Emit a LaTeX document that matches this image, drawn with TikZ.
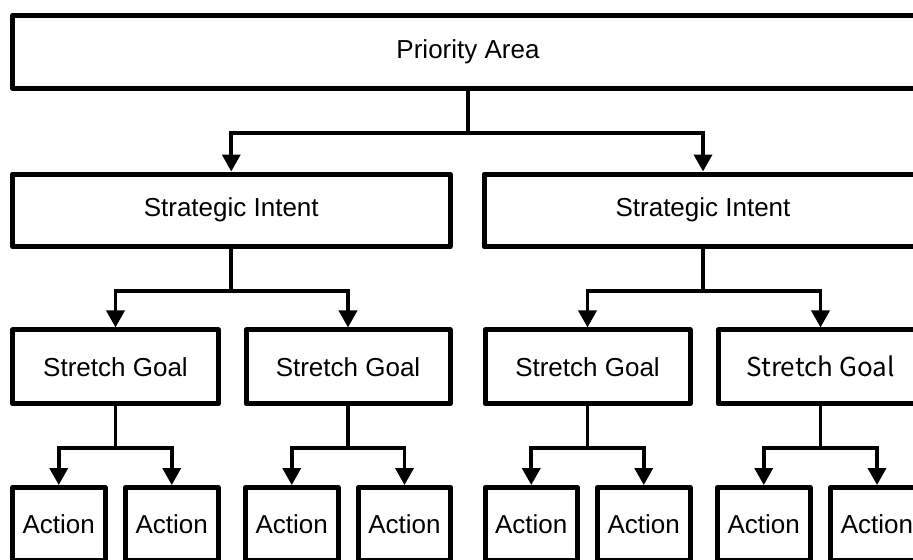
\documentclass[tikz,border=0pt]{standalone}
\usepackage{fontspec}
\setmainfont{Liberation Sans}
\newfontfamily\jpfont{Noto Sans CJK JP}
\usetikzlibrary{arrows.meta}

\begin{document}
\begin{tikzpicture}[x=0.5pt,y=-0.5pt]
	\tikzset{box/.style={draw,line width=2.5pt,line join=round,font=\fontsize{13}{15}\selectfont,inner sep=0pt,minimum height=36.85pt}}
	\tikzset{link/.style={line width=1.8pt},arr/.style={link,-{Triangle[length=8.5pt,width=9pt]}}}
	\useasboundingbox (0,0) rectangle (913,559);
	\clip (0,0) rectangle (913,559);

	%% levels
	\node[box,minimum width=455.5pt,minimum height=36.25pt] (pa) at (468,51.75) {Priority Area};
	\node[box,minimum width=218.75pt,minimum height=36.25pt] (si1) at (231.25,210.25) {Strategic Intent};
	\node[box,minimum width=219pt,minimum height=36.25pt] (si2) at (703,210.25) {Strategic Intent};
	\node[box,minimum width=103pt] (sg1) at (115.5,366.8) {Stretch Goal};
	\node[box,minimum width=102pt] (sg2) at (348,366.8) {Stretch Goal};
	\node[box,minimum width=102.5pt] (sg3) at (587.5,366.8) {Stretch Goal};
	\node[box,minimum width=102.5pt,font=\jpfont\fontsize{13}{15}\selectfont] (sg4) at (820.5,366.8) {Stretch Goal};
	\foreach \i/\x in {1/58.75,2/171.75,3/291.75,4/404.5,5/531.25,6/643.75,7/763.75,8/877}
	    \node[box,minimum width=46.25pt,minimum height=36.5pt] (act\i) at (\x,524) {Action};

	%% connectors
	\draw[link] (pa.south) -- ++(0,42.5) coordinate (j0);
	\draw[arr] (j0) -| (si1.north);
	\draw[arr] (j0) -| (si2.north);
	\draw[link] (si1.south) -- ++(0,41.8) coordinate (j1);
	\draw[arr] (j1) -| (sg1.north);
	\draw[arr] (j1) -| (sg2.north);
	\draw[link] (si2.south) -- ++(0,41.8) coordinate (j2);
	\draw[arr] (j2) -| (sg3.north);
	\draw[arr] (j2) -| (sg4.north);
	\foreach \s/\a/\b in {1/1/2,2/3/4,3/5/6,4/7/8} {
	    \draw[link] (sg\s.south) -- ++(0,42) coordinate (k\s);
	    \draw[arr] (k\s) -| (act\a.north);
	    \draw[arr] (k\s) -| (act\b.north);
	}
\end{tikzpicture}
\end{document}
